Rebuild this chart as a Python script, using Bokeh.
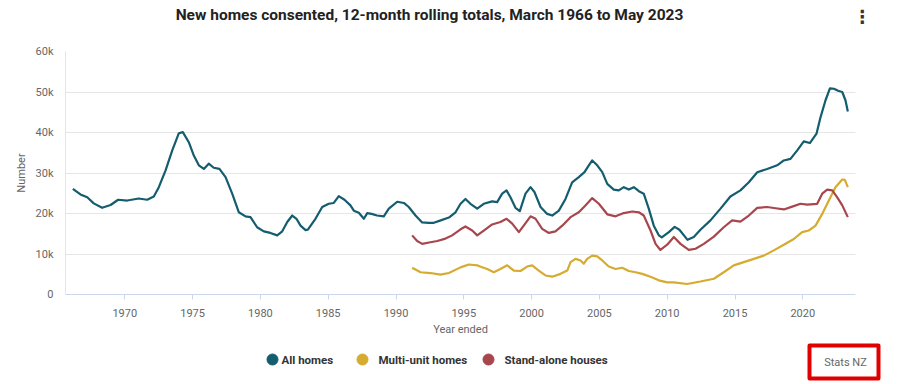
from bokeh.plotting import figure
from bokeh.layouts import column
from bokeh.models import Range1d, FixedTicker, BoxAnnotation
from bokeh.embed import file_html
from bokeh.resources import INLINE
from bokeh.core.properties import value

TITLE = "New homes consented, 12-month rolling totals, March 1966 to May 2023"
CREDITS = "Stats NZ"
X_LABEL = "Year ended"
Y_LABEL = "Number"
X_TICKS = [1970, 1975, 1980, 1985, 1990, 1995, 2000, 2005, 2010, 2015, 2020]
Y_TICKS = [0, 10000, 20000, 30000, 40000, 50000, 60000]
Y_TICK_LABELS = ["0", "10k", "20k", "30k", "40k", "50k", "60k"]
SERIES_NAMES = ["All homes", "Multi-unit homes", "Stand-alone houses"]

all_years = [1966.17, 1966.73, 1967.23, 1967.71, 1968.33, 1968.95, 1969.51, 1970.18, 1971.03, 1971.65,
             1972.14, 1972.51, 1973.00, 1973.50, 1973.98, 1974.28, 1974.72, 1975.09, 1975.46, 1975.83,
             1976.19, 1976.56, 1976.98, 1977.43, 1977.92, 1978.41, 1978.90, 1979.27, 1979.76, 1980.25,
             1980.74, 1981.24, 1981.61, 1981.98, 1982.35, 1982.66, 1982.96, 1983.33, 1983.50, 1984.06,
             1984.56, 1985.04, 1985.41, 1985.78, 1986.20, 1986.64, 1986.89, 1987.26, 1987.63, 1987.88,
             1988.20, 1988.60, 1989.10, 1989.47, 1990.09, 1990.58, 1990.94, 1991.44, 1991.93, 1992.40,
             1992.79, 1993.30, 1993.90, 1994.39, 1994.76, 1995.12, 1995.49, 1995.99, 1996.47, 1997.09,
             1997.46, 1997.83, 1998.15, 1998.44, 1998.81, 1999.13, 1999.55, 1999.92, 2000.21, 2000.66,
             2001.15, 2001.52, 2002.01, 2002.50, 2002.99, 2003.48, 2003.90, 2004.22, 2004.47, 2004.84,
             2005.21, 2005.58, 2006.06, 2006.43, 2006.80, 2007.17, 2007.54, 2007.91, 2008.27, 2008.64,
             2009.01, 2009.38, 2009.60, 2010.12, 2010.55, 2010.90, 2011.50, 2011.96, 2012.45, 2013.19,
             2013.93, 2014.66, 2015.40, 2016.02, 2016.64, 2017.37, 2018.11, 2018.60, 2019.09, 2019.59,
             2020.07, 2020.52, 2021.01, 2021.31, 2021.67, 2022.00, 2022.30, 2022.60, 2022.91, 2023.15,
             2023.32]
all_homes = [26100, 24700, 24000, 22500, 21400, 22100, 23400, 23200, 23700, 23400,
             24200, 26500, 30600, 35600, 39800, 40100, 37600, 34300, 31900, 31000,
             32300, 31300, 31000, 29000, 24900, 20300, 19300, 19100, 16600, 15600,
             15200, 14600, 15600, 17900, 19500, 18700, 17000, 15900, 16000, 18700,
             21600, 22400, 22600, 24300, 23400, 22000, 20700, 20200, 18700, 20100,
             19900, 19500, 19300, 21200, 22900, 22600, 21600, 19500, 17800, 17700,
             17700, 18300, 19000, 20300, 22400, 23600, 22400, 21200, 22400, 23000,
             22800, 24900, 25700, 24000, 21400, 20600, 24900, 26500, 25300, 21600,
             19900, 19500, 20700, 23600, 27700, 29000, 30200, 31900, 33100, 31900,
             30200, 27300, 25900, 25700, 26500, 25900, 26500, 25500, 24900, 21200,
             17000, 14600, 14100, 15400, 16700, 16000, 13500, 14200, 16000, 18300,
             21200, 24200, 25700, 27700, 30200, 31000, 31900, 33100, 33500, 35600,
             37800, 37400, 39700, 43800, 47900, 50900, 50800, 50300, 50000, 47900,
             45200]

multi_years = [1991.19, 1991.81, 1992.54, 1993.28, 1993.90, 1994.76, 1995.37, 1995.99, 1996.20, 1996.73,
               1997.21, 1997.70, 1998.20, 1998.69, 1999.18, 1999.67, 2000.04, 2000.53, 2001.02, 2001.52,
               2002.13, 2002.63, 2002.87, 2003.24, 2003.61, 2003.85, 2004.10, 2004.47, 2004.84, 2005.21,
               2005.69, 2006.19, 2006.68, 2007.17, 2007.66, 2008.16, 2008.77, 2009.38, 2010.00, 2010.49,
               2011.47, 2012.45, 2013.44, 2014.17, 2014.91, 2015.65, 2016.39, 2017.12, 2017.86, 2018.60,
               2019.34, 2019.95, 2020.44, 2020.94, 2021.43, 2021.92, 2022.41, 2022.91, 2023.10, 2023.32]
multi_unit = [6600, 5500, 5300, 4900, 5300, 6700, 7400, 7200, 6900, 6300,
              5500, 6300, 7200, 5900, 5800, 6900, 7200, 5900, 4700, 4400,
              5100, 5900, 8000, 8800, 8400, 7600, 8800, 9600, 9400, 8400,
              6900, 6300, 6600, 5800, 5500, 5100, 4400, 3500, 3000, 3000,
              2600, 3200, 3900, 5500, 7200, 8000, 8800, 9600, 10900, 12300,
              13700, 15400, 15800, 17000, 19900, 23200, 26500, 28400, 28300, 26500]

stand_years = [1991.19, 1991.56, 1991.93, 1992.54, 1993.04, 1993.65, 1994.14, 1994.76, 1995.12, 1995.62,
               1995.99, 1996.47, 1997.09, 1997.70, 1998.15, 1998.57, 1999.06, 1999.42, 1999.92, 2000.29,
               2000.78, 2001.27, 2001.76, 2002.26, 2002.87, 2003.48, 2003.97, 2004.47, 2004.96, 2005.58,
               2006.19, 2006.80, 2007.42, 2007.91, 2008.27, 2008.77, 2009.14, 2009.50, 2010.00, 2010.49,
               2010.98, 2011.59, 2012.09, 2012.70, 2013.44, 2014.17, 2014.79, 2015.40, 2016.02, 2016.64,
               2017.37, 2017.99, 2018.60, 2019.22, 2019.83, 2020.32, 2021.06, 2021.43, 2021.80, 2022.17,
               2022.54, 2022.91, 2023.32]
stand_alone = [14600, 13200, 12500, 12900, 13200, 13800, 14600, 16100, 16800, 15800,
               14600, 15800, 17300, 17900, 18700, 17500, 15400, 17000, 19300, 18700,
               16200, 15200, 15600, 17000, 19100, 20300, 22000, 23800, 22400, 19800,
               19300, 20100, 20500, 20300, 19500, 15800, 12500, 11000, 12300, 14200,
               12500, 11000, 11300, 12500, 14300, 16600, 18300, 18000, 19500, 21400,
               21600, 21300, 21000, 21700, 22400, 22200, 22400, 24900, 25900, 25700,
               24000, 22000, 19100]

COLORS = ["#135d6e", "#d5ab30", "#a8464e"]
FONT = "Roboto"
W = 900

# Page-pixel layout.  The frames of the three stacked figures are aligned by Bokeh,
# so all share the same left/right edges (65 .. 885).
FR_L, FR_R_PLOT, FR_R, FR_T, FR_B = 65, 855, 885, 51, 294
X0, X1 = 1965.627, 2023.886                 # x range of the visible plot area (65 .. 855)
X1_EXT = X0 + (FR_R - FR_L) * (X1 - X0) / (FR_R_PLOT - FR_L)

# ---------- top strip: title and menu icon ----------
TOP_H = 36
top = figure(width=W, height=TOP_H, output_backend="svg", toolbar_location=None, title=None,
             x_range=Range1d(FR_L, FR_R), y_range=Range1d(0, TOP_H),
             x_axis_type=None, y_axis_type=None,
             min_border_left=FR_L, min_border_right=W - FR_R, min_border_top=0, min_border_bottom=0,
             outline_line_color=None)
top.grid.visible = False
top.text(x=[429], y=[TOP_H - 14], text=[TITLE], text_align="center", text_baseline="middle",
         text_font=value(FONT), text_font_style="bold", text_font_size="15.5px", text_color="#222222")
top.text(x=[862], y=[TOP_H - 16], text=["\u22ee"], text_align="center", text_baseline="middle",
         text_font=value("DejaVu Sans"), text_font_style="bold", text_font_size="18px",
         text_color="#333333")

# ---------- main chart ----------
MAIN_BOTTOM = 322
p = figure(width=W, height=MAIN_BOTTOM - TOP_H, output_backend="svg", toolbar_location=None,
           title=None, x_range=Range1d(X0, X1_EXT), y_range=Range1d(0, 60000),
           min_border_left=FR_L, min_border_right=W - FR_R,
           min_border_top=FR_T - TOP_H, min_border_bottom=MAIN_BOTTOM - FR_B)
p.outline_line_color = None

p.xaxis.ticker = FixedTicker(ticks=X_TICKS)
p.xaxis.bounds = (X0, X1)
p.xaxis.axis_line_color = "#ccd6eb"
p.xaxis.major_tick_line_color = "#ccd6eb"
p.xaxis.major_tick_in = 0
p.xaxis.major_tick_out = 5
p.xaxis.minor_tick_line_color = None
p.xaxis.major_label_standoff = 9
p.xaxis.major_label_text_font = FONT
p.xaxis.major_label_text_font_size = "11px"
p.xaxis.major_label_text_color = "#666666"

p.yaxis.ticker = FixedTicker(ticks=Y_TICKS)
p.yaxis.major_label_overrides = {t: l for t, l in zip(Y_TICKS, Y_TICK_LABELS)}
p.yaxis.axis_line_color = "#e6e6e6"
p.yaxis.major_tick_line_color = None
p.yaxis.minor_tick_line_color = None
p.yaxis.major_tick_in = 0
p.yaxis.major_tick_out = 0
p.yaxis.major_label_standoff = 12
p.yaxis.major_label_text_font = FONT
p.yaxis.major_label_text_font_size = "11px"
p.yaxis.major_label_text_color = "#666666"
p.yaxis.axis_label = Y_LABEL
p.yaxis.axis_label_text_font = FONT
p.yaxis.axis_label_text_font_style = "normal"
p.yaxis.axis_label_text_font_size = "11px"
p.yaxis.axis_label_text_color = "#666666"
p.yaxis.axis_label_standoff = 5

p.xgrid.grid_line_color = None
p.ygrid.grid_line_color = "#e6e6e6"
p.ygrid.grid_line_width = 1

series = [(all_years, all_homes), (multi_years, multi_unit), (stand_years, stand_alone)]
for (xs, ys), c in zip(series, COLORS):
    p.line(xs, ys, line_color=c, line_width=2.2, line_join="round")

# blank margin to the right of the plot area (gridlines stop at the plot area's edge)
p.add_layout(BoxAnnotation(left=X1, fill_color="white", fill_alpha=1.0, line_color=None))

# ---------- bottom strip: x-axis title, legend and credits ----------
BOT_H = 384 - MAIN_BOTTOM
bot = figure(width=W, height=BOT_H, output_backend="svg", toolbar_location=None, title=None,
             x_range=Range1d(FR_L, FR_R), y_range=Range1d(0, BOT_H),
             x_axis_type=None, y_axis_type=None,
             min_border_left=FR_L, min_border_right=W - FR_R, min_border_top=0, min_border_bottom=0,
             outline_line_color=None)
bot.grid.visible = False
bot.text(x=[(FR_L + FR_R_PLOT) / 2], y=[384 - 329], text=[X_LABEL], text_align="center",
         text_baseline="middle", text_font=value(FONT), text_font_size="11px", text_color="#666666")
LEG_Y = 384 - 359
leg_circle_x = [272, 362, 488]
leg_text_x = [281, 378, 504]
bot.scatter(x=leg_circle_x, y=[LEG_Y] * 3, size=11, marker="circle", fill_color=COLORS,
            line_color=COLORS)
bot.text(x=leg_text_x, y=[LEG_Y] * 3, text=SERIES_NAMES, text_align="left", text_baseline="middle",
         text_font=value(FONT), text_font_style="bold", text_font_size="11.5px",
         text_color="#333333")
bot.rect(x=[843.5], y=[384 - 361.5], width=[69], height=[33], fill_color=None,
         line_color="#e00000", line_width=4, line_join="round")
bot.text(x=[845], y=[384 - 362], text=[CREDITS], text_align="center", text_baseline="middle",
         text_font=value(FONT), text_font_size="11px", text_color="#666666")

layout = column(top, p, bot, spacing=0)
open("out.html", "w").write(file_html(layout, INLINE))
